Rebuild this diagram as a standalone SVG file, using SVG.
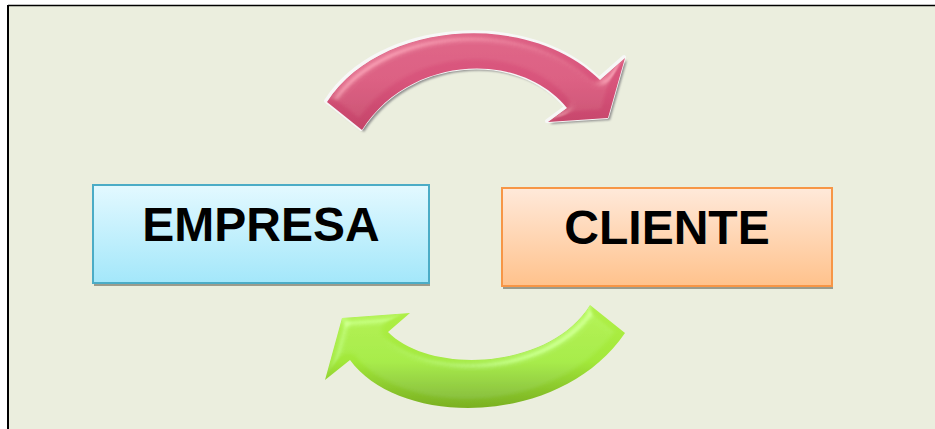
<svg xmlns="http://www.w3.org/2000/svg" width="935" height="429" viewBox="0 0 935 429">
  <defs>
    <linearGradient id="gBlue" x1="0" y1="0" x2="0" y2="1">
      <stop offset="0" stop-color="#E3F9FF"/>
      <stop offset="1" stop-color="#A3E7FA"/>
    </linearGradient>
    <linearGradient id="gOrange" x1="0" y1="0" x2="0" y2="1">
      <stop offset="0" stop-color="#FFE9DA"/>
      <stop offset="1" stop-color="#FFC28C"/>
    </linearGradient>
    <linearGradient id="gPink" x1="0" y1="0" x2="0" y2="1">
      <stop offset="0" stop-color="#DC5C82"/>
      <stop offset="0.5" stop-color="#D8547B"/>
      <stop offset="1" stop-color="#C44469"/>
    </linearGradient>
    <linearGradient id="gGreen" x1="0" y1="0" x2="0" y2="1">
      <stop offset="0" stop-color="#B0F048"/>
      <stop offset="0.55" stop-color="#A2E83A"/>
      <stop offset="1" stop-color="#7AB022"/>
    </linearGradient>
    <!-- soft bevel: specular highlight clipped to the shape -->
    <filter id="bevel" x="-10%" y="-20%" width="120%" height="140%">
      <feGaussianBlur in="SourceAlpha" stdDeviation="4" result="blur"/>
      <feSpecularLighting in="blur" surfaceScale="5" specularConstant="0.6" specularExponent="20" lighting-color="#ffffff" result="spec">
        <feDistantLight azimuth="235" elevation="40"/>
      </feSpecularLighting>
      <feComposite in="spec" in2="SourceAlpha" operator="in" result="specIn"/>
      <feComposite in="SourceGraphic" in2="specIn" operator="arithmetic" k1="0" k2="1" k3="0.35" k4="0"/>
    </filter>
    <filter id="soft" x="-10%" y="-20%" width="120%" height="140%">
      <feGaussianBlur stdDeviation="1"/>
    </filter>
  </defs>
  <style>
    .label { font-family: "Liberation Sans", Arial, sans-serif; font-weight: bold; font-size: 48px; fill: #000; text-anchor: middle; }
    .shadow { fill: #9B9B8C; }
  </style>

  <!-- page and frame -->
  <rect x="0" y="0" width="935" height="429" fill="#FFFFFF"/>
  <rect x="9" y="6" width="926" height="423" fill="#EBEEDE"/>
  <line x1="8" y1="5.5" x2="935" y2="5.5" stroke="#000" stroke-width="1.5"/>
  <line x1="8" y1="5" x2="8" y2="429" stroke="#000" stroke-width="2"/>

  <g id="empresa">
    <rect class="shadow" x="94" y="188" width="336" height="98"/>
    <rect x="93" y="185" width="336" height="98" fill="url(#gBlue)" stroke="#4BACC6" stroke-width="2"/>
    <text class="label" x="261" y="241">EMPRESA</text>
  </g>

  <g id="cliente">
    <rect class="shadow" x="503" y="191" width="330" height="98"/>
    <rect x="502" y="188" width="330" height="98" fill="url(#gOrange)" stroke="#F79646" stroke-width="2"/>
    <text class="label" x="667" y="244">CLIENTE</text>
  </g>

  <g id="connectors">
    <!-- upper arrow: EMPRESA to CLIENTE -->
    <g id="arrow-top">
      <path d="M327,102 C380,20 530,10 600,80 L625,58 L608,118 L548,122 L567,108 C520,50 410,55 362,130 Z"
            fill="#8E8E8E" transform="translate(2,2)" filter="url(#soft)"/>
      <path d="M327,102 C380,20 530,10 600,80 L625,58 L608,118 L548,122 L567,108 C520,50 410,55 362,130 Z"
            fill="none" stroke="#F7F7F7" stroke-width="4" stroke-linejoin="round" transform="translate(-1,-1)"/>
      <path d="M327,102 C380,20 530,10 600,80 L625,58 L608,118 L548,122 L567,108 C520,50 410,55 362,130 Z"
            fill="url(#gPink)" filter="url(#bevel)"/>
    </g>
    <!-- lower arrow: CLIENTE to EMPRESA -->
    <g id="arrow-bottom">
      <path d="M625,333 C560,428 400,428 350,360 L325,380 L342,318 L410,313 L388,332 C430,375 550,370 590,305 Z"
            fill="url(#gGreen)" filter="url(#bevel)"/>
    </g>
  </g>
</svg>
